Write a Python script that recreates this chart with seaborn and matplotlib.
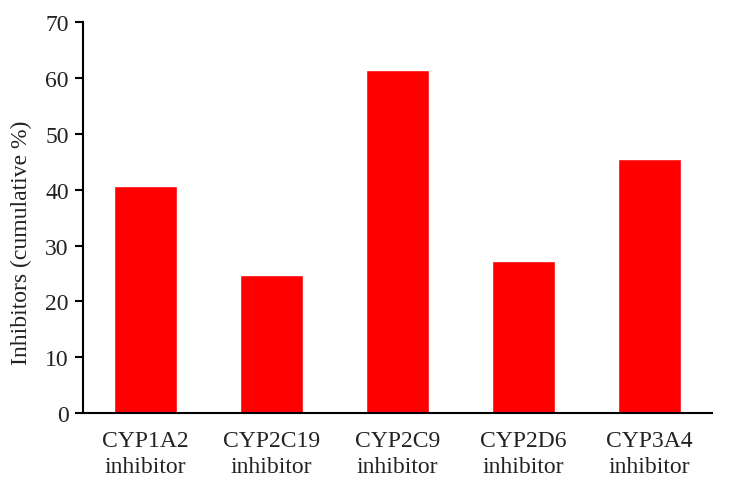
import matplotlib
matplotlib.use("Agg")
import matplotlib.pyplot as plt
import seaborn as sns
import pandas as pd

categories = ["CYP1A2\ninhibitor", "CYP2C19\ninhibitor", "CYP2C9\ninhibitor",
              "CYP2D6\ninhibitor", "CYP3A4\ninhibitor"]
values = [40.7, 24.8, 61.4, 27.3, 45.5]
y_ticks = [0, 10, 20, 30, 40, 50, 60, 70]

sns.set_style("white")
plt.rcParams['font.family'] = ['Liberation Serif', 'DejaVu Serif']

df = pd.DataFrame({"cat": categories, "val": values})

fig = plt.figure(figsize=(7.45, 4.89), dpi=100)
ax = fig.add_axes([0.111, 0.153, 0.845, 0.800])
sns.barplot(data=df, x="cat", y="val", color="#FF0000", saturation=1,
            width=0.5, ax=ax)

ax.set_ylim(0, 70)
ax.set_yticks(y_ticks)
ax.set_xlim(-0.5, 4.5)
ax.set_xlabel("")
ax.set_ylabel("Inhibitors (cumulative %)", fontsize=17, color="#222222",
              va="center")
ax.yaxis.set_label_coords(-0.098, 0.437)
ax.tick_params(axis='y', labelsize=17, length=6, width=1.5, direction='out',
               left=True, color='black', pad=4, labelcolor="#222222")
ax.tick_params(axis='x', labelsize=17, length=0, pad=12, labelcolor="#222222")
for lab in ax.get_xticklabels():
    lab.set_linespacing(1.35)
for s in ["top", "right"]:
    ax.spines[s].set_visible(False)
for s in ["left", "bottom"]:
    ax.spines[s].set_color("black")
    ax.spines[s].set_linewidth(1.5)

fig.savefig("out.png", dpi=100)
